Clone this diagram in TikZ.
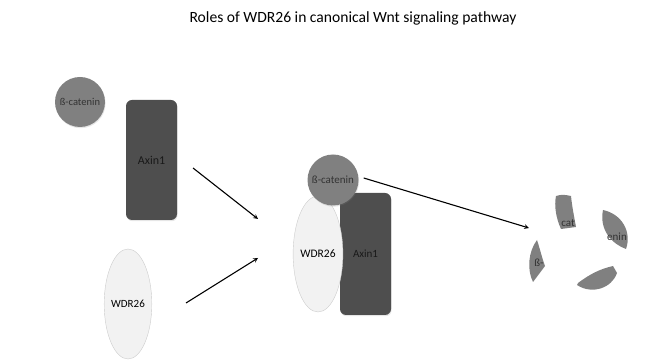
\documentclass[tikz,border=0pt]{standalone}
\usepackage{fontspec}
\setmainfont{Carlito}
\usetikzlibrary{shapes.geometric,shadows}
\definecolor{catgray}{HTML}{808080}
\definecolor{axingray}{HTML}{4E4E4E}
\definecolor{wdrfill}{HTML}{F2F2F2}
\definecolor{wdrline}{HTML}{CCCCCC}

\begin{document}
\begin{tikzpicture}[x=1pt, y=-1pt,
    catenin/.style={circle, fill=catgray, text=black!80, minimum size=50pt, inner sep=0pt, font=\fontsize{10.5}{12}\selectfont, drop shadow={opacity=0.2, shadow xshift=0.6pt, shadow yshift=-1.2pt}},
    axin/.style={rectangle, fill=axingray, text=black!90, rounded corners=6pt, minimum width=51pt, minimum height=120pt, inner sep=0pt, font=\fontsize{12}{14}\selectfont, drop shadow={opacity=0.2, shadow xshift=0.6pt, shadow yshift=-1.2pt}},
    wdr/.style={ellipse, fill=wdrfill, draw=wdrline, line width=0.4pt, inner sep=0pt, minimum width=46pt, minimum height=110pt, font=\fontsize{11}{13}\selectfont},
    fragment/.style={fill=catgray},
    fragtext/.style={text=black!80, inner sep=0pt, font=\fontsize{11}{13}\selectfont},
    arrow/.style={->, >=stealth, line width=1.1pt}
]
    \useasboundingbox (0,0) rectangle (656,363);

    % Title
    \node (title) at (353,18) {\fontsize{15.6}{18}\selectfont Roles of WDR26 in canonical Wnt signaling pathway};

    % Free proteins
    \node[catenin] (bcatA) at (80,102) {ß-catenin};
    \node[axin] (axinA) at (151.5,160) {Axin1};
    \node[wdr] (wdrA) at (128,304) {WDR26};

    % Complex
    \node[axin, minimum height=122pt, font=\fontsize{11}{13}\selectfont] (axinB) at (365.5,254) {Axin1};
    \node[wdr, minimum height=116pt, font=\fontsize{11.5}{13}\selectfont] (wdrB) at (318,254) {WDR26};
    \node[catenin, minimum size=51pt, font=\fontsize{11}{13}\selectfont] (bcatB) at (333,180) {ß-catenin};

    % Degraded ß-catenin
    \fill[fragment] (556,196) .. controls (562,194) and (566,195) .. (571,196)
        .. controls (572,206) and (574,216) .. (576,227) -- (561,229)
        .. controls (556,218) and (554,206) .. (556,196);
    \fill[fragment] (603,210) .. controls (622,214) and (632,232) .. (626,249)
        .. controls (612,244) and (599,230) .. (603,210);
    \fill[fragment] (537,240) .. controls (540,249) and (542,258) .. (545,266)
        -- (533,282) .. controls (527,270) and (528,252) .. (537,240);
    \fill[fragment] (578,283) .. controls (590,274) and (600,269) .. (613,266)
        -- (617,273) .. controls (612,288) and (592,295) .. (577,285) -- cycle;
    \node[fragtext] (fragcat) at (568,223) {cat};
    \node[fragtext] (fragenin) at (617,237) {enin};
    \node[fragtext] (fragbeta) at (539,263) {ß-};

    % Arrows
    \coordinate (a1s) at (193,168);
    \coordinate (a1e) at (258,219);
    \coordinate (a2s) at (186,303);
    \coordinate (a2e) at (258,258);
    \coordinate (a3e) at (529,228);
    \draw[arrow] (a1s) -- (a1e);
    \draw[arrow] (a2s) -- (a2e);
    \draw[arrow] (bcatB.east) ++(5,-2) coordinate (a3s) -- (a3e);
\end{tikzpicture}
\end{document}
